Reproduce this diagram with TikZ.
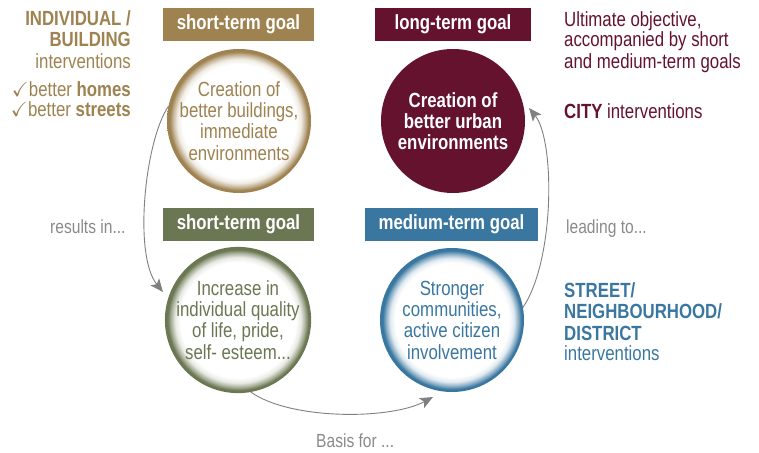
\documentclass[tikz,border=0pt]{standalone}
\usepackage{fontspec}
\setmainfont{Liberation Sans}[FakeStretch=0.82]
\usepackage{amssymb}
\usetikzlibrary{arrows.meta,calc}
\definecolor{goldc}{RGB}{158,130,80}
\definecolor{maroonc}{RGB}{101,18,46}
\definecolor{greenc}{RGB}{107,119,82}
\definecolor{bluec}{RGB}{58,119,160}
\definecolor{grayt}{RGB}{138,138,138}
\definecolor{arrowc}{RGB}{128,128,128}
\colorlet{goldA}{goldc!15}\colorlet{goldB}{goldc!60}
\colorlet{greenA}{greenc!15}\colorlet{greenB}{greenc!60}
\colorlet{blueA}{bluec!15}\colorlet{blueB}{bluec!60}
\pgfdeclareradialshading{goldring}{\pgfpoint{0bp}{0bp}}{color(0bp)=(white);color(19.8bp)=(white);color(21.5bp)=(goldA);color(23bp)=(goldB);color(24.1bp)=(goldc);color(50bp)=(goldc)}
\pgfdeclareradialshading{greenring}{\pgfpoint{0bp}{0bp}}{color(0bp)=(white);color(19.8bp)=(white);color(21.5bp)=(greenA);color(23bp)=(greenB);color(24.1bp)=(greenc);color(50bp)=(greenc)}
\pgfdeclareradialshading{bluering}{\pgfpoint{0bp}{0bp}}{color(0bp)=(white);color(19.8bp)=(white);color(21.5bp)=(blueA);color(23bp)=(blueB);color(24.1bp)=(bluec);color(50bp)=(bluec)}
\begin{document}
\begin{tikzpicture}[x=1pt,y=-1pt,
  goalbox/.style={minimum height=33pt, inner sep=0pt, outer sep=0pt, text=white,
    font=\fontsize{20.5}{21}\selectfont\bfseries},
  ring/.style={circle, minimum size=144pt, inner sep=0pt, outer sep=0pt, align=center,
    font=\fontsize{20.5}{21.3}\selectfont},
  side/.style={inner sep=0pt, font=\fontsize{20.5}{21}\selectfont},
  note/.style={inner sep=0pt, text=grayt, font=\fontsize{19}{21}\selectfont},
  conn/.style={draw=arrowc, line width=0.9pt, -{Stealth[length=13pt,width=11pt,inset=3pt]}}]
\useasboundingbox (0,0) rectangle (759,452);

% goal boxes
\node[goalbox, fill=goldc, minimum width=151pt] (b1) at (238.5,24.5) {short-term goal};
\node[goalbox, fill=maroonc, minimum width=156pt] (b2) at (453,24.5) {long-term goal};
\node[goalbox, fill=greenc, minimum width=151pt] (b3) at (238.5,224) {short-term goal};
\node[goalbox, fill=bluec, minimum width=173pt] (b4) at (451.5,224) {medium-term goal};

% circles
\node[ring, shade, shading=goldring, text=goldc] (c1) at (239,121)
  {Creation of\\better buildings,\\immediate\\environments};
\node[ring, fill=maroonc, text=white, font=\fontsize{20.5}{21.3}\selectfont\bfseries] (c2) at (453,121)
  {Creation of\\better urban\\environments};
\node[ring, shade, shading=greenring, text=greenc] (c3) at (238,320)
  {Increase in\\individual quality\\of life, pride,\\self- esteem...};
\node[ring, shade, shading=bluering, text=bluec] (c4) at (452,320)
  {Stronger\\communities,\\active citizen\\involvement};

% left texts
\node[side, text=goldc, anchor=base east] (l1) at (131,26) {\bfseries INDIVIDUAL /};
\node[side, text=goldc, anchor=base east] (l2) at (131,46) {\bfseries BUILDING};
\node[side, text=goldc, anchor=base east] (l3) at (131,68) {interventions};
\node[side, text=goldc, anchor=base east] (l4) at (131,96) {$\checkmark$better \textbf{homes}};
\node[side, text=goldc, anchor=base east] (l5) at (131,116) {$\checkmark$better \textbf{streets}};

% right texts
\node[side, text=maroonc, anchor=base west] (r1) at (564,27) {Ultimate objective,};
\node[side, text=maroonc, anchor=base west] (r2) at (564,47) {accompanied by short};
\node[side, text=maroonc, anchor=base west] (r3) at (564,68) {and medium-term goals};
\node[side, text=maroonc, anchor=base west] (r4) at (564,118) {\textbf{CITY} interventions};

\node[side, text=bluec, anchor=base west] (s1) at (564,297) {\bfseries STREET/};
\node[side, text=bluec, anchor=base west] (s2) at (564,318) {\bfseries NEIGHBOURHOOD/};
\node[side, text=bluec, anchor=base west] (s3) at (564,340) {\bfseries DISTRICT};
\node[side, text=bluec, anchor=base west] (s4) at (564,360) {interventions};

% connector labels
\node[note, anchor=base west] (n1) at (50,233) {results in...};
\node[note, anchor=base west] (n2) at (566,233) {leading to...};
\node[note, anchor=base west] (n3) at (316,447) {Basis for ...};

% connectors
\draw[conn] (c1.168) .. controls (145,140) and (133,255) .. ($(c3.center)+(-75,-28)$);
\draw[conn] (c3.-80) .. controls (290,420) and (390,420) .. ($(c4.center)+(-19,77)$);
\draw[conn] (c4.10) .. controls (555,260) and (555,140) .. ($(c2.center)+(76,-13)$);
\end{tikzpicture}
\end{document}
